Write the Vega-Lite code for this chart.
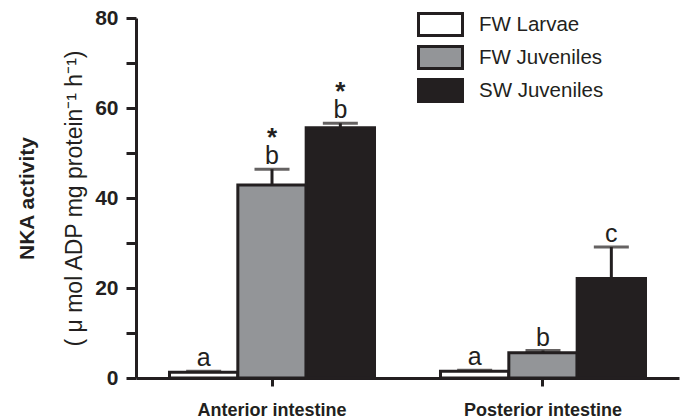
{
  "$schema": "https://vega.github.io/schema/vega-lite/v6.json",
  "width": 543,
  "height": 360,
  "autosize": {"type": "none"},
  "padding": {"left": 136, "top": 18, "right": 10, "bottom": 42},
  "background": "#ffffff",
  "config": {
    "view": {"stroke": null},
    "font": "Liberation Sans",
    "axis": {
      "grid": false,
      "domainColor": "#231f20",
      "domainWidth": 3,
      "tickColor": "#231f20",
      "tickWidth": 3,
      "labelColor": "#231f20",
      "labelFont": "Liberation Sans",
      "labelFontWeight": "bold",
      "titleColor": "#231f20",
      "titleFont": "Liberation Sans"
    }
  },
  "data": {
    "values": [
      {"group": "Anterior intestine", "series": "FW Larvae", "value": 1.3, "upper": 1.5, "letter": "a", "star": ""},
      {"group": "Anterior intestine", "series": "FW Juveniles", "value": 42.9, "upper": 46.4, "letter": "b", "star": "*"},
      {"group": "Anterior intestine", "series": "SW Juveniles", "value": 55.6, "upper": 56.6, "letter": "b", "star": "*"},
      {"group": "Posterior intestine", "series": "FW Larvae", "value": 1.5, "upper": 1.7, "letter": "a", "star": ""},
      {"group": "Posterior intestine", "series": "FW Juveniles", "value": 5.6, "upper": 6.1, "letter": "b", "star": ""},
      {"group": "Posterior intestine", "series": "SW Juveniles", "value": 22.1, "upper": 29.1, "letter": "c", "star": ""}
    ]
  },
  "encoding": {
    "x": {
      "field": "group",
      "type": "nominal",
      "scale": {"paddingInner": 0.2435, "paddingOuter": 0.1236},
      "axis": {
        "title": null,
        "labelAngle": 0,
        "labelFontSize": 18,
        "labelPadding": 15,
        "tickSize": 8
      }
    },
    "xOffset": {
      "field": "series",
      "type": "nominal",
      "sort": ["FW Larvae", "FW Juveniles", "SW Juveniles"],
      "scale": {"paddingInner": 0, "paddingOuter": 0}
    }
  },
  "layer": [
    {
      "mark": {"type": "bar", "stroke": "#231f20", "strokeWidth": 3},
      "encoding": {
        "y": {
          "field": "value",
          "type": "quantitative",
          "scale": {"domain": [0, 80], "nice": false},
          "axis": {
            "orient": "left",
            "values": [0, 10, 20, 30, 40, 50, 60, 70, 80],
            "labelExpr": "datum.value % 20 == 0 ? datum.label : ''",
            "labelFontSize": 21,
            "labelPadding": 8,
            "tickSize": 10,
            "title": "( μ mol ADP mg protein⁻¹ h⁻¹)",
            "titleFontWeight": "normal",
            "titleFontSize": 23,
            "titlePadding": 8
          }
        },
        "fill": {
          "field": "series",
          "type": "nominal",
          "scale": {
            "domain": ["FW Larvae", "FW Juveniles", "SW Juveniles"],
            "range": ["#ffffff", "#939598", "#231f20"]
          },
          "legend": {
            "title": null,
            "orient": "none",
            "legendX": 292,
            "legendY": -6,
            "padding": 0,
            "symbolType": "M-2,-1H2V1H-2Z",
            "symbolSize": 484,
            "symbolStrokeColor": "#231f20",
            "symbolStrokeWidth": 3,
            "symbolOpacity": 1,
            "labelFont": "Liberation Sans",
            "labelFontSize": 20.5,
            "labelColor": "#231f20",
            "labelOffset": 26,
            "rowPadding": -2
          }
        }
      }
    },
    {
      "mark": {"type": "rule", "color": "#231f20", "strokeWidth": 3},
      "encoding": {
        "y": {
          "field": "value",
          "type": "quantitative",
          "axis": {
            "orient": "left",
            "labels": false,
            "ticks": false,
            "domain": false,
            "title": "NKA activity",
            "titleFontWeight": "bold",
            "titleFontSize": 21,
            "titlePadding": 99
          }
        },
        "y2": {"field": "upper"}
      }
    },
    {
      "mark": {"type": "tick", "color": "#231f20", "size": 35, "thickness": 3},
      "encoding": {
        "y": {"field": "upper", "type": "quantitative", "axis": null}
      }
    },
    {
      "mark": {"type": "text", "fontSize": 25, "color": "#231f20", "baseline": "alphabetic", "dy": -5},
      "encoding": {
        "y": {"field": "upper", "type": "quantitative", "axis": null},
        "text": {"field": "letter"}
      }
    },
    {
      "mark": {"type": "text", "fontSize": 26, "fontWeight": "bold", "color": "#231f20", "baseline": "alphabetic", "dy": -23},
      "encoding": {
        "y": {"field": "upper", "type": "quantitative", "axis": null},
        "text": {"field": "star"}
      }
    }
  ],
  "resolve": {"axis": {"y": "independent"}}
}
